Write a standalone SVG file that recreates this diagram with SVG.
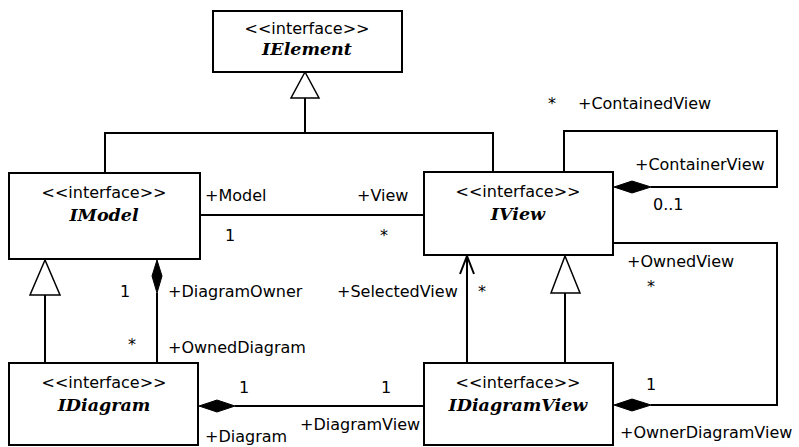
<svg xmlns="http://www.w3.org/2000/svg" width="799" height="447" viewBox="0 0 799 447">
<style>
.box{fill:#fff;stroke:#000;stroke-width:2}
.ln{fill:none;stroke:#000;stroke-width:2}
.tri{fill:#fff;stroke:#000;stroke-width:1.5}
.dia{fill:#000;stroke:#000;stroke-width:1}
.st{font-family:"DejaVu Sans",sans-serif;font-size:16px;fill:#000;text-anchor:middle}
.nm{font-family:"DejaVu Serif",serif;font-size:17.5px;font-weight:bold;font-style:italic;fill:#000;text-anchor:middle}
.lb{font-family:"DejaVu Sans",sans-serif;font-size:16px;fill:#000}
</style>
<rect width="799" height="447" fill="#fff"/>
<g id="connectors">
<polyline class="ln" points="105,173 105,133 493,133 493,172"/>
<line class="ln" x1="305" y1="98" x2="305" y2="133"/>
<polygon class="tri" points="305,72 291,98 319,98"/>
<line class="ln" x1="200" y1="215" x2="424" y2="215"/>
<polyline class="ln" points="564,172 564,131 777,131 777,187 651,187"/>
<polygon class="dia" points="614,187 632,181 651,187 632,193"/>
<polyline class="ln" points="613,243 777,243 777,405 651,405"/>
<polygon class="dia" points="614,405 632,399 651,405 632,411"/>
<line class="ln" x1="467" y1="363" x2="467" y2="256"/>
<polyline class="ln" points="460,274 467,256 474,274" stroke-width="1.5"/>
<line class="ln" x1="565" y1="293" x2="565" y2="363"/>
<polygon class="tri" points="565,256 551,293 580,293"/>
<line class="ln" x1="45" y1="295" x2="45" y2="363"/>
<polygon class="tri" points="45,260 30,295 60,295"/>
<line class="ln" x1="157" y1="293" x2="157" y2="363"/>
<polygon class="dia" points="157,260 152,276 157,293 162,276"/>
<line class="ln" x1="235" y1="406" x2="424" y2="406"/>
<polygon class="dia" points="199,406 217,400 235,406 217,412"/>
</g>
<g id="IElement">
<rect class="box" x="213" y="11" width="189" height="61"/>
<text class="st" x="307" y="34">&lt;&lt;interface&gt;&gt;</text>
<text class="nm" x="307" y="55">IElement</text>
</g>
<g id="IModel">
<rect class="box" x="9" y="173" width="191" height="86"/>
<text class="st" x="104" y="198">&lt;&lt;interface&gt;&gt;</text>
<text class="nm" x="104" y="221">IModel</text>
</g>
<g id="IView">
<rect class="box" x="424" y="172" width="189" height="83"/>
<text class="st" x="518" y="197">&lt;&lt;interface&gt;&gt;</text>
<text class="nm" x="518" y="220">IView</text>
</g>
<g id="IDiagram">
<rect class="box" x="9" y="363" width="189" height="82"/>
<text class="st" x="104" y="388">&lt;&lt;interface&gt;&gt;</text>
<text class="nm" x="104" y="411">IDiagram</text>
</g>
<g id="IDiagramView">
<rect class="box" x="424" y="363" width="189" height="82"/>
<text class="st" x="518" y="388">&lt;&lt;interface&gt;&gt;</text>
<text class="nm" x="518" y="411">IDiagramView</text>
</g>
<g id="labels">
<text class="lb" x="205" y="201">+Model</text>
<text class="lb" x="357" y="201">+View</text>
<text class="lb" x="225" y="241">1</text>
<text class="lb" x="380" y="241">*</text>
<text class="lb" x="548" y="109">*</text>
<text class="lb" x="578" y="109">+ContainedView</text>
<text class="lb" x="635" y="170">+ContainerView</text>
<text class="lb" x="653" y="210">0..1</text>
<text class="lb" x="627" y="267">+OwnedView</text>
<text class="lb" x="647" y="292">*</text>
<text class="lb" x="337" y="297">+SelectedView</text>
<text class="lb" x="478" y="297">*</text>
<text class="lb" x="120" y="297">1</text>
<text class="lb" x="168" y="297">+DiagramOwner</text>
<text class="lb" x="128" y="350">*</text>
<text class="lb" x="168" y="353">+OwnedDiagram</text>
<text class="lb" x="239" y="393">1</text>
<text class="lb" x="381" y="393">1</text>
<text class="lb" x="646" y="390">1</text>
<text class="lb" x="300" y="430">+DiagramView</text>
<text class="lb" x="205" y="442">+Diagram</text>
<text class="lb" x="620" y="438">+OwnerDiagramView</text>
</g>
</svg>
